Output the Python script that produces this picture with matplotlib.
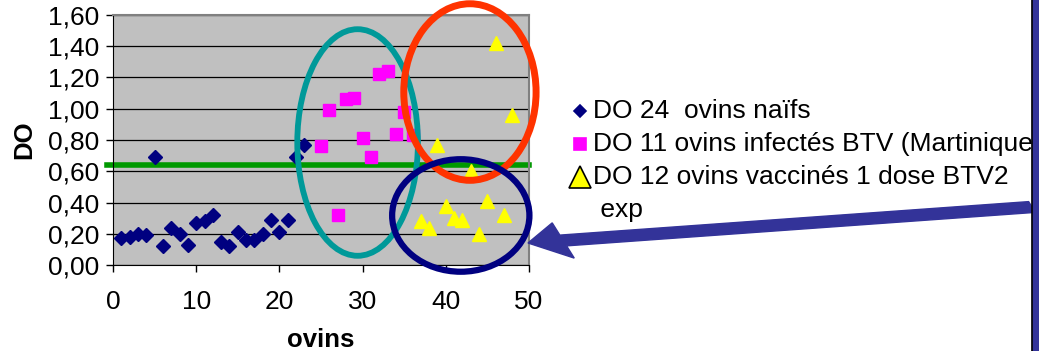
import matplotlib
matplotlib.use("Agg")
import matplotlib.pyplot as plt
from matplotlib.patches import Ellipse, Rectangle, FancyArrow
from matplotlib.lines import Line2D
from matplotlib.ticker import FuncFormatter

plt.rcParams['font.family'] = ['Liberation Sans', 'DejaVu Sans']

# --- data ---
x_naifs = [1, 2, 3, 4, 5, 6, 7, 8, 9, 10, 11, 12, 13, 14, 15, 16, 17, 18, 19, 20, 21, 22, 23]
do_naifs = [0.17, 0.18, 0.20, 0.19, 0.69, 0.12, 0.24, 0.20, 0.13, 0.27, 0.28, 0.32,
            0.15, 0.12, 0.21, 0.16, 0.16, 0.20, 0.29, 0.21, 0.29, 0.69, 0.77]

x_infectes = [25, 26, 27, 28, 29, 30, 31, 32, 33, 34, 35, 36]
do_infectes = [0.76, 0.99, 0.32, 1.06, 1.07, 0.81, 0.69, 1.22, 1.24, 0.84, 0.98, 0.83]

x_vaccines = [37, 38, 39, 40, 41, 42, 43, 44, 45, 46, 47, 48]
do_vaccines = [0.28, 0.24, 0.77, 0.38, 0.30, 0.29, 0.60, 0.20, 0.41, 1.42, 0.32, 0.96]

seuil = 0.64

# the slide's frame bar cuts the second label after "(Martinique"
labels = ["DO 24  ovins naïfs",
          "DO 11 ovins infectés BTV (Martinique",
          "DO 12 ovins vaccinés 1 dose BTV2\n exp"]

# groups circled on the slide: (centre x, centre y, width, height, colour, lw)
groupes = [(29.4, 0.784, 14.5, 1.45, '#009999', 4.2),
           (42.9, 1.107, 15.9, 1.13, '#FF3300', 5.0),
           (41.8, 0.317, 16.5, 0.72, '#000080', 4.5)]

W, H = 1039, 351
fig = plt.figure(figsize=(W / 100, H / 100), dpi=100)
fig.patch.set_facecolor('white')
ax = fig.add_axes([113 / W, 1 - 265 / H, 416 / W, 250 / H])
ax.set_facecolor('#C0C0C0')

ax.set_xlim(0, 50)
ax.set_ylim(0, 1.6)
ax.set_xticks(range(0, 51, 10))
ax.set_yticks([i * 0.2 for i in range(9)])
ax.yaxis.set_major_formatter(FuncFormatter(lambda v, p: f"{v:.2f}".replace('.', ',')))
ax.grid(axis='y', color='black', lw=0.9)
ax.set_axisbelow(True)
ax.tick_params(labelsize=19, length=5, width=1, colors='black', pad=5)
ax.tick_params(axis='x', pad=13)
for s in ['top', 'right']:
    ax.spines[s].set_color('#808080')
    ax.spines[s].set_linewidth(1.5)
for s in ['left', 'bottom']:
    ax.spines[s].set_color('black')

ax.set_xlabel("ovins", fontsize=18.5, fontweight='bold', labelpad=10)
ax.set_ylabel("DO", fontsize=18.5, fontweight='bold', labelpad=8)

ax.plot([-0.7, 50], [seuil, seuil], color='#009900', lw=4, clip_on=False, zorder=2)

ax.plot(x_naifs, do_naifs, 'D', color='#000080', ms=7.5, zorder=3)
ax.plot(x_infectes, do_infectes, 's', color='#FF00FF', ms=9, zorder=3)
ax.plot(x_vaccines, do_vaccines, '^', color='#FFFF00', ms=10, zorder=3)

for cx, cy, w, h, c, lw in groupes:
    ax.add_patch(Ellipse((cx, cy), w, h, fill=False, ec=c, lw=lw, clip_on=False, zorder=4))

# legend, drawn by hand beside the plot
def px(x, y):
    return x / W, 1 - y / H

handles = [('D', '#000080', 'none', 6), ('s', '#FF00FF', 'none', 9), ('^', '#FFFF00', 'black', 16)]
rows_y = [111, 144, 177]
for (m, c, ec, ms), lab, y in zip(handles, labels, rows_y):
    hx, hy = px(580, y)
    fig.add_artist(Line2D([hx], [hy], marker=m, color=c, mec=ec if ec != 'none' else c,
                          mew=1.2, ms=ms, ls='none'))
    tx, ty = px(593, y)
    if '\n' in lab:
        fig.text(tx, 1 - (y - 12) / H, lab, fontsize=19, va='top', linespacing=1.45)
    else:
        fig.text(tx, ty, lab, fontsize=19, va='center')

# arrow and right frame bar
fig.add_artist(FancyArrow(1032 / W, 1 - 207 / H, (528 - 1032) / W, (207 - 243) / H,
                          width=11 / H, head_width=36 / H, head_length=36 / W,
                          length_includes_head=True, color='#333399', transform=fig.transFigure))
bar = Rectangle((1032 / W, 0), 7 / W, 1, color='#333399', transform=fig.transFigure)
bar.set_zorder(10)
fig.add_artist(bar)
fig.add_artist(Line2D([1032 / W, 1032 / W], [0, 1], color='black', lw=1.2, zorder=11))

fig.savefig("out.png", dpi=100)
